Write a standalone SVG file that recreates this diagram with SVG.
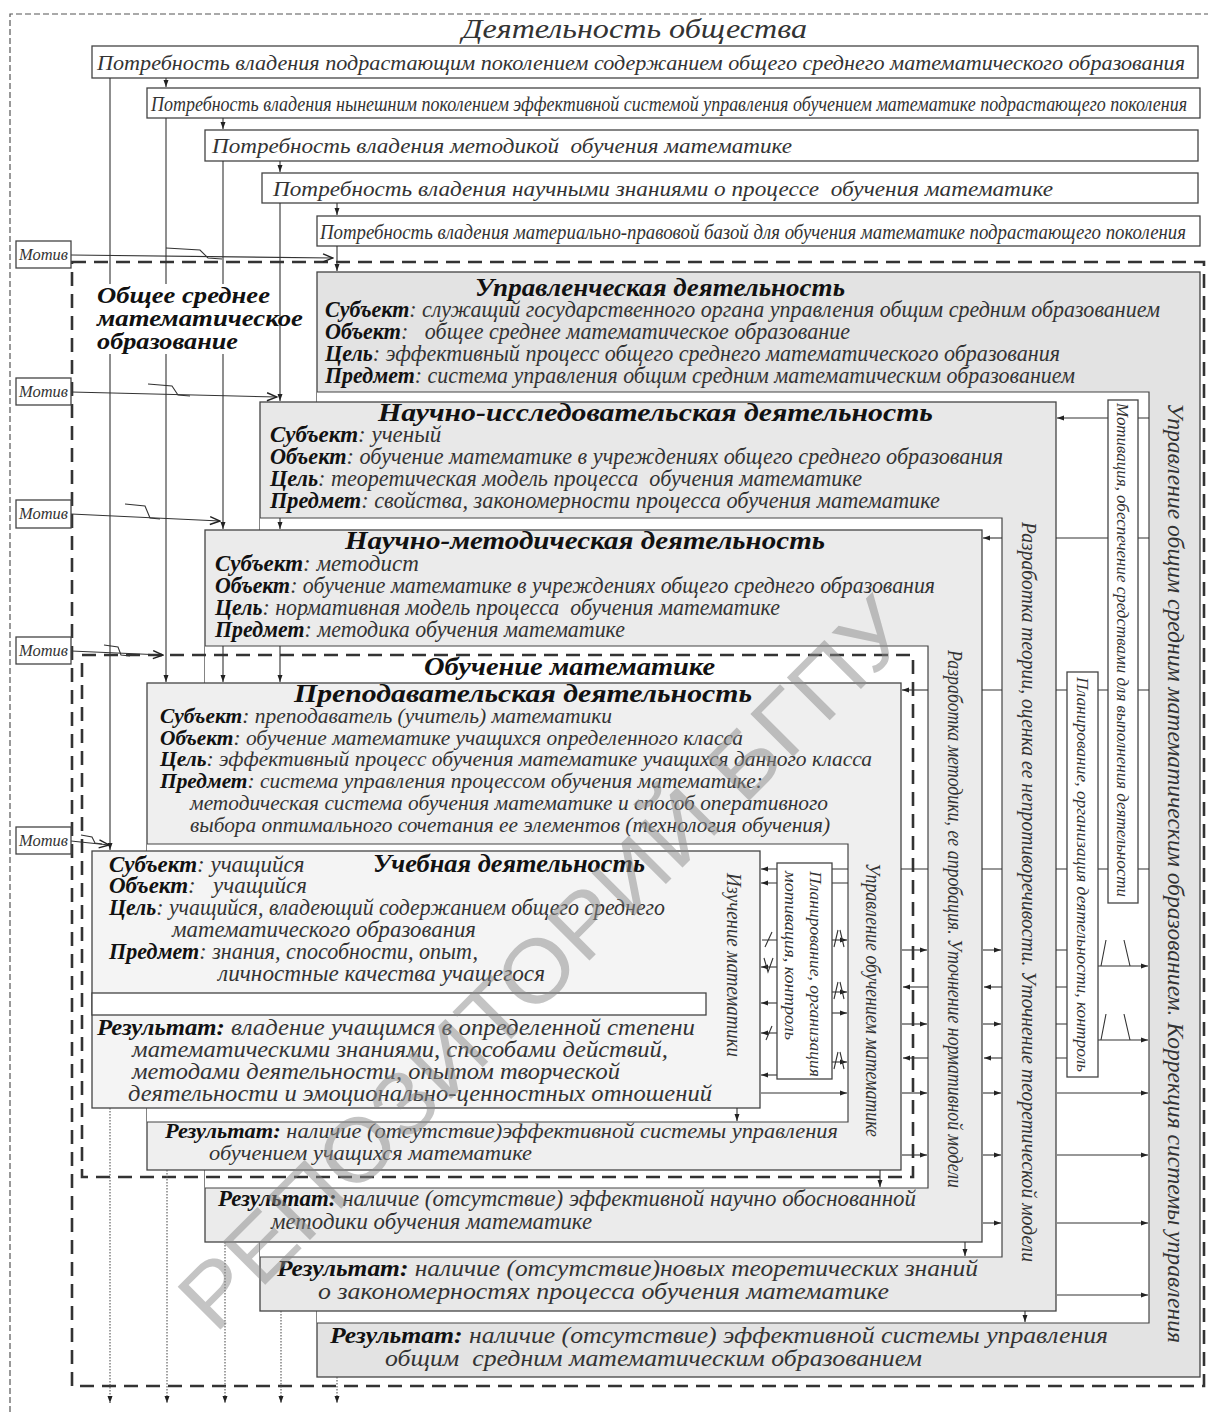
<svg xmlns="http://www.w3.org/2000/svg" width="1208" height="1412" viewBox="0 0 1208 1412">
<defs>
<marker id="ah" markerUnits="userSpaceOnUse" markerWidth="8" markerHeight="6" refX="7" refY="3" orient="auto"><path d="M0,0.5 L7,3 L0,5.5 z" fill="#222"/></marker>
<marker id="ch" markerUnits="userSpaceOnUse" markerWidth="12" markerHeight="10" refX="11" refY="5" orient="auto"><path d="M1,1 L11,5 L1,9" fill="none" stroke="#222" stroke-width="1.4"/></marker>
<style>
.t{font-family:"Liberation Serif","Times New Roman",serif;font-style:italic;fill:#333}
.b{font-weight:bold;fill:#111}
.bx{stroke:#444;stroke-width:1.3}
.w{fill:#fff}
.ln{stroke:#333;stroke-width:1.1;fill:none}
.in{stroke:#444;stroke-width:1.2;fill:none}
.dt{stroke:#555;stroke-width:1.1;fill:none;stroke-dasharray:1.5 1.5}
.dthin{stroke:#555;stroke-width:1.2;fill:none;stroke-dasharray:6 3}
.dthick{stroke:#333;stroke-width:2.6;fill:none;stroke-dasharray:14 8}
.a{marker-end:url(#ah)}
.c{marker-end:url(#ch)}
</style>
</defs>
<rect width="1208" height="1412" fill="#fff"/>

<g id="society">
<path class="dthin" d="M10,1412 V14 H1208"/>
<text class="t" x="462" y="38" font-size="28" textLength="345" lengthAdjust="spacingAndGlyphs">Деятельность общества</text>
</g>

<g id="need1"><rect class="bx w" x="92" y="46" width="1106" height="32"/><text class="t" x="97" y="70" font-size="22" textLength="1088" lengthAdjust="spacingAndGlyphs">Потребность владения подрастающим поколением содержанием общего среднего математического образования</text></g>
<g id="need2"><rect class="bx w" x="147" y="88" width="1053" height="30"/><text class="t" x="151" y="111" font-size="21" textLength="1036" lengthAdjust="spacingAndGlyphs">Потребность владения нынешним поколением эффективной системой управления обучением математике подрастающего поколения</text></g>
<g id="need3"><rect class="bx w" x="205" y="130" width="993" height="31"/><text class="t" x="212" y="153" font-size="22" textLength="580" lengthAdjust="spacingAndGlyphs" xml:space="preserve">Потребность владения методикой  обучения математике</text></g>
<g id="need4"><rect class="bx w" x="262" y="173" width="936" height="30"/><text class="t" x="273" y="196" font-size="22" textLength="780" lengthAdjust="spacingAndGlyphs" xml:space="preserve">Потребность владения научными знаниями о процессе  обучения математике</text></g>
<g id="need5"><rect class="bx w" x="317" y="216" width="883" height="30"/><text class="t" x="320" y="239" font-size="21" textLength="866" lengthAdjust="spacingAndGlyphs">Потребность владения материально-правовой базой для обучения математике подрастающего поколения</text></g>

<g id="management">
<rect class="bx" x="317" y="272" width="883" height="1105" fill="#e3e3e3"/>
<rect x="317" y="392" width="832" height="931" fill="#fff"/>
<path class="in" d="M317,392 H1149 V1323 H317"/>
<text class="t b" x="475" y="296" font-size="25" textLength="370" lengthAdjust="spacingAndGlyphs">Управленческая деятельность</text>
<text class="t" x="325" y="317" font-size="23" textLength="835" lengthAdjust="spacingAndGlyphs"><tspan class="b">Субъект</tspan>: служащий государственного органа управления общим средним образованием</text>
<text class="t" x="325" y="339" font-size="23" textLength="525" lengthAdjust="spacingAndGlyphs" xml:space="preserve"><tspan class="b">Объект</tspan>:   общее среднее математическое образование</text>
<text class="t" x="325" y="361" font-size="23" textLength="735" lengthAdjust="spacingAndGlyphs"><tspan class="b">Цель</tspan>: эффективный процесс общего среднего математического образования</text>
<text class="t" x="325" y="383" font-size="23" textLength="750" lengthAdjust="spacingAndGlyphs"><tspan class="b">Предмет</tspan>: система управления общим средним математическим образованием</text>
<text class="t" font-size="24" transform="translate(1168,403) rotate(90)" textLength="940" lengthAdjust="spacingAndGlyphs">Управление общим средним математическим образованием. Коррекция системы управления</text>
<text class="t" x="330" y="1343" font-size="23" textLength="778" lengthAdjust="spacingAndGlyphs"><tspan class="b">Результат:</tspan> наличие (отсутствие) эффективной системы управления</text>
<text class="t" x="385" y="1366" font-size="23" textLength="537" lengthAdjust="spacingAndGlyphs" xml:space="preserve">общим  средним математическим образованием</text>
</g>

<g id="research">
<rect class="bx" x="260" y="402" width="796" height="909" fill="#e8e8e8"/>
<rect x="260" y="518" width="742" height="739" fill="#fff"/>
<path class="in" d="M260,518 H1002 V1257 H260"/>
<text class="t b" x="378" y="421" font-size="25" textLength="555" lengthAdjust="spacingAndGlyphs">Научно-исследовательская деятельность</text>
<text class="t" x="270" y="442" font-size="23"><tspan class="b">Субъект</tspan>: ученый</text>
<text class="t" x="270" y="464" font-size="23" textLength="733" lengthAdjust="spacingAndGlyphs"><tspan class="b">Объект</tspan>: обучение математике в учреждениях общего среднего образования</text>
<text class="t" x="270" y="486" font-size="23" textLength="592" lengthAdjust="spacingAndGlyphs" xml:space="preserve"><tspan class="b">Цель</tspan>: теоретическая модель процесса  обучения математике</text>
<text class="t" x="270" y="508" font-size="23" textLength="670" lengthAdjust="spacingAndGlyphs"><tspan class="b">Предмет</tspan>: свойства, закономерности процесса обучения математике</text>
<text class="t" font-size="22" transform="translate(1022,522) rotate(90)" textLength="740" lengthAdjust="spacingAndGlyphs">Разработка теории, оценка ее непротиворечивости. Уточнение теоретической модели</text>
<text class="t" x="277" y="1276" font-size="23" textLength="701" lengthAdjust="spacingAndGlyphs"><tspan class="b">Результат:</tspan> наличие (отсутствие)новых теоретических знаний</text>
<text class="t" x="318" y="1299" font-size="23" textLength="571" lengthAdjust="spacingAndGlyphs">о закономерностях процесса обучения математике</text>
</g>

<g id="methodical">
<rect class="bx" x="205" y="530" width="777" height="712" fill="#ebebeb"/>
<rect x="205" y="646" width="723" height="542" fill="#fff"/>
<path class="in" d="M205,646 H928 V1188 H205"/>
<text class="t b" x="345" y="549" font-size="25" textLength="480" lengthAdjust="spacingAndGlyphs">Научно-методическая деятельность</text>
<text class="t" x="215" y="571" font-size="23"><tspan class="b">Субъект</tspan>: методист</text>
<text class="t" x="215" y="593" font-size="23" textLength="720" lengthAdjust="spacingAndGlyphs"><tspan class="b">Объект</tspan>: обучение математике в учреждениях общего среднего образования</text>
<text class="t" x="215" y="615" font-size="23" textLength="565" lengthAdjust="spacingAndGlyphs" xml:space="preserve"><tspan class="b">Цель</tspan>: нормативная модель процесса  обучения математике</text>
<text class="t" x="215" y="637" font-size="23" textLength="410" lengthAdjust="spacingAndGlyphs"><tspan class="b">Предмет</tspan>: методика обучения математике</text>
<text class="t" font-size="22" transform="translate(948,650) rotate(90)" textLength="538" lengthAdjust="spacingAndGlyphs">Разработка методики, ее апробация. Уточнение нормативной модели</text>
<text class="t" x="218" y="1206" font-size="23" textLength="698" lengthAdjust="spacingAndGlyphs"><tspan class="b">Результат:</tspan> наличие (отсутствие) эффективной научно обоснованной</text>
<text class="t" x="271" y="1229" font-size="23" textLength="321" lengthAdjust="spacingAndGlyphs">методики обучения математике</text>
</g>

<g id="learning-frame">
<rect class="dthick" x="82" y="655" width="831" height="522"/>
<text class="t b" x="424" y="675" font-size="25" textLength="291" lengthAdjust="spacingAndGlyphs">Обучение математике</text>
</g>

<g id="teaching">
<rect class="bx" x="147" y="683" width="754" height="487" fill="#efefef"/>
<rect x="147" y="844" width="701" height="278" fill="#fff"/>
<path class="in" d="M147,844 H848 V1122 H147"/>
<text class="t b" x="294" y="702" font-size="25" textLength="458" lengthAdjust="spacingAndGlyphs">Преподавательская деятельность</text>
<text class="t" x="160" y="723" font-size="22" textLength="452" lengthAdjust="spacingAndGlyphs"><tspan class="b">Субъект</tspan>: преподаватель (учитель) математики</text>
<text class="t" x="160" y="745" font-size="22" textLength="583" lengthAdjust="spacingAndGlyphs"><tspan class="b">Объект</tspan>: обучение математике учащихся определенного класса</text>
<text class="t" x="160" y="766" font-size="22" textLength="712" lengthAdjust="spacingAndGlyphs"><tspan class="b">Цель</tspan>: эффективный процесс обучения математике учащихся данного класса</text>
<text class="t" x="160" y="788" font-size="22" textLength="603" lengthAdjust="spacingAndGlyphs"><tspan class="b">Предмет</tspan>: система управления процессом обучения математике:</text>
<text class="t" x="190" y="810" font-size="22" textLength="638" lengthAdjust="spacingAndGlyphs">методическая система обучения математике и способ оперативного</text>
<text class="t" x="190" y="832" font-size="22" textLength="640" lengthAdjust="spacingAndGlyphs">выбора оптимального сочетания ее элементов (технология обучения)</text>
<text class="t" font-size="21" transform="translate(866,863) rotate(90)" textLength="274" lengthAdjust="spacingAndGlyphs">Управление обучением математике</text>
<text class="t" x="165" y="1138" font-size="22" textLength="673" lengthAdjust="spacingAndGlyphs"><tspan class="b">Результат:</tspan> наличие (отсутствие)эффективной системы управления</text>
<text class="t" x="209" y="1160" font-size="22" textLength="323" lengthAdjust="spacingAndGlyphs">обучением учащихся математике</text>
</g>

<g id="study">
<rect class="bx" x="92" y="851" width="668" height="257" fill="#f4f4f4"/>
<rect class="bx w" x="92" y="993" width="614" height="22"/>
<text class="t" x="109" y="872" font-size="23"><tspan class="b">Субъект</tspan>: учащийся</text>
<text class="t b" x="373" y="872" font-size="25" textLength="272" lengthAdjust="spacingAndGlyphs">Учебная деятельность</text>
<text class="t" x="109" y="893" font-size="23" xml:space="preserve"><tspan class="b">Объект</tspan>:   учащийся</text>
<text class="t" x="109" y="915" font-size="23" textLength="556" lengthAdjust="spacingAndGlyphs"><tspan class="b">Цель</tspan>: учащийся, владеющий содержанием общего среднего</text>
<text class="t" x="172" y="937" font-size="23" textLength="304" lengthAdjust="spacingAndGlyphs">математического образования</text>
<text class="t" x="109" y="959" font-size="23" textLength="369" lengthAdjust="spacingAndGlyphs"><tspan class="b">Предмет</tspan>: знания, способности, опыт,</text>
<text class="t" x="218" y="981" font-size="23" textLength="327" lengthAdjust="spacingAndGlyphs">личностные качества учащегося</text>
<text class="t" font-size="21" transform="translate(727,873) rotate(90)" textLength="184" lengthAdjust="spacingAndGlyphs">Изучение математики</text>
<text class="t" x="97" y="1035" font-size="23" textLength="598" lengthAdjust="spacingAndGlyphs"><tspan class="b">Результат:</tspan> владение учащимся в определенной степени</text>
<text class="t" x="132" y="1057" font-size="23" textLength="536" lengthAdjust="spacingAndGlyphs">математическими знаниями, способами действий,</text>
<text class="t" x="132" y="1079" font-size="23" textLength="488" lengthAdjust="spacingAndGlyphs">методами деятельности, опытом творческой</text>
<text class="t" x="128" y="1101" font-size="23" textLength="584" lengthAdjust="spacingAndGlyphs">деятельности и эмоционально-ценностных отношений</text>
</g>

<g id="education-frame">
<rect class="dthick" x="72" y="262" width="1132" height="1124"/>
</g>

<g id="connectors">
<path class="ln a" d="M110,78 V850"/>
<path class="ln a" d="M166,78 V87"/>
<path class="ln a" d="M166,118 V682"/>
<path class="ln a" d="M223,118 V129"/>
<path class="ln a" d="M223,161 V529"/>
<path class="ln a" d="M223,646 V682"/>
<path class="ln a" d="M280,161 V172"/>
<path class="ln a" d="M280,203 V401"/>
<path class="ln a" d="M280,518 V529"/>
<path class="ln a" d="M280,646 V682"/>
<path class="ln a" d="M337,203 V215"/>
<path class="ln a" d="M337,246 V271"/>
<path class="ln a" d="M1149,418 H1057"/>
<path class="ln" d="M1149,538 H1056"/><path class="ln a" d="M1002,538 H983"/>
<path class="ln" d="M1149,690 H1056 M1002,690 H982"/><path class="ln a" d="M928,690 H902"/>
<path class="ln" d="M1149,869 H1056 M1002,869 H982 M928,869 H901"/><path class="ln a" d="M848,869 H761"/>
<path class="ln a" d="M848,883 H761"/>
<path class="ln" d="M777,940 H762 M765,947 L772,932"/>
<path class="ln a" d="M777,967 H761"/><path class="ln" d="M764,958 L768,972 L773,958"/>
<path class="ln a" d="M777,1003 H761"/>
<path class="ln a" d="M777,1033 H761"/><path class="ln" d="M766,1040 L772,1026"/>
<path class="ln a" d="M777,1075 H761"/>
<path class="ln a" d="M832,940 H847"/><path class="ln" d="M834,947 L838,930 M840,930 L844,947"/>
<path class="ln a" d="M832,992 H847"/><path class="ln" d="M834,999 L838,982 M840,982 L844,999"/>
<path class="ln a" d="M832,1013 H847"/>
<path class="ln a" d="M832,1062 H847"/><path class="ln" d="M834,1069 L838,1052 M840,1052 L844,1069"/>
<path class="ln a" d="M761,1093 H847"/>
<path class="ln a" d="M902,1093 H927"/><path class="ln a" d="M983,1093 H1001"/><path class="ln a" d="M1057,1093 H1148"/>
<path class="ln a" d="M902,1155 H927"/><path class="ln a" d="M983,1155 H1001"/><path class="ln a" d="M1057,1155 H1148"/>
<path class="ln a" d="M983,1223 H1001"/><path class="ln a" d="M1057,1223 H1148"/>
<path class="ln a" d="M1057,1295 H1148"/>
<path class="ln a" d="M902,950 H927"/><path class="ln a" d="M928,987 H903"/><path class="ln a" d="M902,1024 H927"/><path class="ln a" d="M928,1058 H903"/>
<path class="ln a" d="M983,950 H1001"/><path class="ln a" d="M1002,987 H984"/><path class="ln a" d="M983,1024 H1001"/><path class="ln a" d="M1002,1058 H984"/>
<path class="ln" d="M1056,950 H1067 M1056,987 H1067 M1056,1024 H1067 M1056,1058 H1067"/>
<path class="ln a" d="M1098,966 H1148"/><path class="ln" d="M1101,966 L1106,940 M1124,940 L1130,966"/>
<path class="ln a" d="M1098,1040 H1148"/><path class="ln" d="M1101,1040 L1106,1014 M1124,1014 L1130,1040"/>
<path class="ln a" d="M737,1108 V1121"/>
<path class="ln a" d="M880,1170 V1187"/>
<path class="ln a" d="M965,1242 V1256"/>
<path class="ln a" d="M1025,1311 V1322"/>
<path class="dt a" d="M110,1108 V1403"/>
<path class="dt a" d="M167,1170 V1403"/>
<path class="dt a" d="M225,1242 V1403"/>
<path class="dt a" d="M281,1311 V1403"/>
<path class="dt a" d="M337,1377 V1403"/>
<path class="ln c" d="M71,255 L333,258"/><path class="ln" d="M166,248 L200,250 L208,258 L222,259"/>
<path class="ln c" d="M71,392 L277,397"/><path class="ln" d="M148,384 L172,386 L178,395 L190,396"/>
<path class="ln c" d="M71,514 L220,521"/><path class="ln" d="M125,504 L145,506 L150,518 L160,519"/>
<path class="ln c" d="M71,651 L163,655"/><path class="ln" d="M104,645 L118,647 L121,655 L130,656"/>
<path class="ln c" d="M71,841 L109,845"/><path class="ln" d="M81,835 L92,837 L95,843 L102,844"/>
</g>

<g id="motivation-box"><rect class="bx w" x="1108" y="400" width="30" height="503"/><text class="t" font-size="17" transform="translate(1117,403) rotate(90)" textLength="494" lengthAdjust="spacingAndGlyphs">Мотивация, обеспечение средствами для выполнения деятельности</text></g>
<g id="planning-box"><rect class="bx w" x="1067" y="672" width="31" height="405"/><text class="t" font-size="17" transform="translate(1077,677) rotate(90)" textLength="395" lengthAdjust="spacingAndGlyphs">Планирование, организация деятельности, контроль</text></g>
<g id="planning-inner"><rect class="bx w" x="777" y="863" width="55" height="216"/><text class="t" font-size="17" transform="translate(810,871) rotate(90)" textLength="206" lengthAdjust="spacingAndGlyphs">Планирование, организация</text><text class="t" font-size="17" transform="translate(785,871) rotate(90)" textLength="169" lengthAdjust="spacingAndGlyphs">мотивация, контроль</text></g>

<g id="motive1"><rect class="bx w" x="16" y="241" width="55" height="27"/><text class="t" x="19" y="260" font-size="17" textLength="49" lengthAdjust="spacingAndGlyphs">Мотив</text></g>
<g id="motive2"><rect class="bx w" x="16" y="378" width="55" height="27"/><text class="t" x="19" y="397" font-size="17" textLength="49" lengthAdjust="spacingAndGlyphs">Мотив</text></g>
<g id="motive3"><rect class="bx w" x="16" y="500" width="55" height="28"/><text class="t" x="19" y="519" font-size="17" textLength="49" lengthAdjust="spacingAndGlyphs">Мотив</text></g>
<g id="motive4"><rect class="bx w" x="16" y="637" width="55" height="27"/><text class="t" x="19" y="656" font-size="17" textLength="49" lengthAdjust="spacingAndGlyphs">Мотив</text></g>
<g id="motive5"><rect class="bx w" x="16" y="827" width="55" height="27"/><text class="t" x="19" y="846" font-size="17" textLength="49" lengthAdjust="spacingAndGlyphs">Мотив</text></g>

<g id="education-label">
<rect x="92" y="284" width="180" height="70" fill="#fff"/>
<text class="t b" x="97" y="303" font-size="24" textLength="173" lengthAdjust="spacingAndGlyphs">Общее среднее</text>
<text class="t b" x="97" y="326" font-size="24" textLength="206" lengthAdjust="spacingAndGlyphs">математическое</text>
<text class="t b" x="97" y="349" font-size="24" textLength="141" lengthAdjust="spacingAndGlyphs">образование</text>
</g>

<text x="0" y="0" transform="translate(215,1335) rotate(-45)" font-family="Liberation Sans, Arial, sans-serif" font-size="88" fill="#8a8a8a" fill-opacity="0.5" textLength="990" lengthAdjust="spacingAndGlyphs">РЕПОЗИТОРИЙ БГПУ</text>
</svg>
